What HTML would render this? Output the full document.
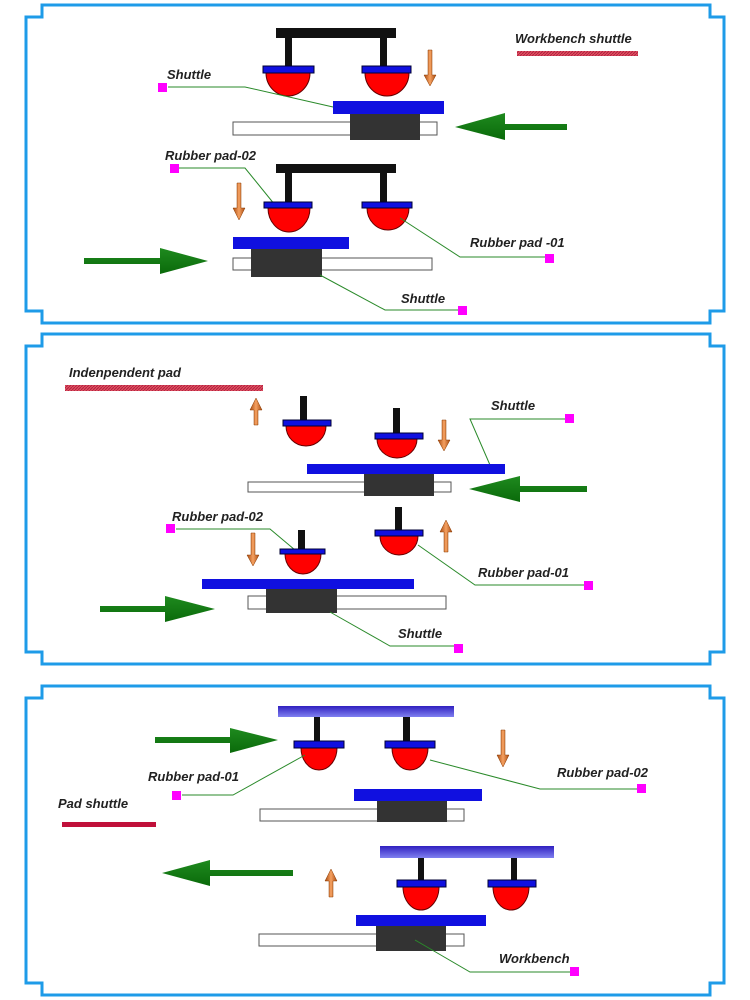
<!DOCTYPE html>
<html><head><meta charset="utf-8"><style>
html,body{margin:0;padding:0;background:#fff}
svg{display:block}
text{font-family:"Liberation Sans",sans-serif;font-weight:bold;font-style:italic;font-size:13px;fill:#222}
</style></head><body>
<svg width="750" height="1000" viewBox="0 0 750 1000" xmlns="http://www.w3.org/2000/svg">
<defs>
<linearGradient id="gr" x1="0" y1="0" x2="0" y2="1"><stop offset="0" stop-color="#1f8a1f"/><stop offset="1" stop-color="#0a6a0a"/></linearGradient>
<linearGradient id="or" x1="0" y1="0" x2="1" y2="0"><stop offset="0" stop-color="#a84a10"/><stop offset="0.5" stop-color="#f5a060"/><stop offset="1" stop-color="#a84a10"/></linearGradient>
<linearGradient id="pb" x1="0" y1="0" x2="0" y2="1"><stop offset="0" stop-color="#3020c0"/><stop offset="1" stop-color="#8080f0"/></linearGradient>
<pattern id="hatch" width="3" height="3" patternUnits="userSpaceOnUse"><rect width="3" height="3" fill="#e05060"/><path d="M0 3L3 0" stroke="#b02040" stroke-width="1"/></pattern>
</defs>
<g fill="none" stroke="#1e9be8" stroke-width="3">
<path d="M42 5H710V17H724V311H710V323H42V311H26V17H42Z"/>
<path d="M42 334H710V346H724V652H710V664H42V652H26V346H42Z"/>
<path d="M42 686H710V698H724V983H710V995H42V983H26V698H42Z"/>
</g>

<!-- PANEL 1 -->
<text x="515" y="43">Workbench shuttle</text>
<rect x="517" y="51" width="121" height="5" fill="url(#hatch)"/>
<rect x="276" y="28" width="120" height="10" fill="#111"/>
<rect x="285" y="38" width="7" height="28" fill="#111"/><rect x="380" y="38" width="7" height="28" fill="#111"/>
<path d="M266 73A22 23 0 0 0 310 73Z" fill="#f00" stroke="#600"/><path d="M365 73A22 23 0 0 0 409 73Z" fill="#f00" stroke="#600"/>
<rect x="263" y="66" width="51" height="7" fill="#1010e0" stroke="#003"/><rect x="362" y="66" width="49" height="7" fill="#1010e0" stroke="#003"/>
<path d="M428 50V75H424L430 86L436 75H432V50Z" fill="url(#or)" stroke="#8a3a00" stroke-width="0.5"/>
<text x="167" y="79">Shuttle</text>
<polyline points="168,87 245,87 333,107" fill="none" stroke="#2a8a2a" stroke-width="1"/>
<rect x="158" y="83" width="9" height="9" fill="#f0f"/>
<rect x="233" y="122" width="204" height="13" fill="#fff" stroke="#555"/>
<rect x="350" y="114" width="70" height="26" fill="#333"/>
<rect x="333" y="101" width="111" height="13" fill="#1010e0"/>
<path d="M455 127L505 113V124H567V130H505V140Z" fill="url(#gr)"/>

<text x="165" y="160">Rubber pad-02</text>
<polyline points="176,168 245,168 275,205" fill="none" stroke="#2a8a2a" stroke-width="1"/>
<rect x="170" y="164" width="9" height="9" fill="#f0f"/>
<rect x="276" y="164" width="120" height="9" fill="#111"/>
<rect x="285" y="173" width="7" height="29" fill="#111"/><rect x="380" y="173" width="7" height="29" fill="#111"/>
<path d="M268 208A21 24 0 0 0 310 208Z" fill="#f00" stroke="#600"/><path d="M367 208A21 22 0 0 0 409 208Z" fill="#f00" stroke="#600"/>
<rect x="264" y="202" width="48" height="6" fill="#1010e0" stroke="#003"/><rect x="362" y="202" width="50" height="6" fill="#1010e0" stroke="#003"/>
<path d="M237 183V208H233L239 220L245 208H241V183Z" fill="url(#or)" stroke="#8a3a00" stroke-width="0.5"/>
<rect x="233" y="258" width="199" height="12" fill="#fff" stroke="#555"/>
<rect x="251" y="249" width="71" height="28" fill="#333"/>
<rect x="233" y="237" width="116" height="12" fill="#1010e0"/>
<path d="M208 261L160 248V258H84V264H160V274Z" fill="url(#gr)"/>
<text x="470" y="247">Rubber pad -01</text>
<polyline points="400,218 460,257 547,257" fill="none" stroke="#2a8a2a" stroke-width="1"/>
<rect x="545" y="254" width="9" height="9" fill="#f0f"/>
<text x="401" y="303">Shuttle</text>
<polyline points="320,275 385,310 460,310" fill="none" stroke="#2a8a2a" stroke-width="1"/>
<rect x="458" y="306" width="9" height="9" fill="#f0f"/>

<!-- PANEL 2 -->
<text x="69" y="377">Indenpendent pad</text>
<rect x="65" y="385" width="198" height="6" fill="url(#hatch)"/>
<path d="M254 425V410H250L256 398L262 410H258V425Z" fill="url(#or)" stroke="#8a3a00" stroke-width="0.5"/>
<rect x="300" y="396" width="7" height="24" fill="#111"/>
<path d="M286 426A20 20 0 0 0 326 426Z" fill="#f00" stroke="#600"/>
<rect x="283" y="420" width="48" height="6" fill="#1010e0" stroke="#003"/>
<rect x="393" y="408" width="7" height="25" fill="#111"/>
<path d="M377 439A20 19 0 0 0 417 439Z" fill="#f00" stroke="#600"/>
<rect x="375" y="433" width="48" height="6" fill="#1010e0" stroke="#003"/>
<path d="M442 420V440H438L444 451L450 440H446V420Z" fill="url(#or)" stroke="#8a3a00" stroke-width="0.5"/>
<text x="491" y="410">Shuttle</text>
<polyline points="566,419 470,419 490,465" fill="none" stroke="#2a8a2a" stroke-width="1"/>
<rect x="565" y="414" width="9" height="9" fill="#f0f"/>
<rect x="248" y="482" width="203" height="10" fill="#fff" stroke="#555"/>
<rect x="364" y="474" width="70" height="22" fill="#333"/>
<rect x="307" y="464" width="198" height="10" fill="#1010e0"/>
<path d="M469 489L520 476V486H587V492H520V502Z" fill="url(#gr)"/>

<text x="172" y="521">Rubber pad-02</text>
<polyline points="176,529 270,529 295,550" fill="none" stroke="#2a8a2a" stroke-width="1"/>
<rect x="166" y="524" width="9" height="9" fill="#f0f"/>
<path d="M251 533V555H247L253 566L259 555H255V533Z" fill="url(#or)" stroke="#8a3a00" stroke-width="0.5"/>
<rect x="298" y="530" width="7" height="19" fill="#111"/>
<path d="M285 554A18 20 0 0 0 321 554Z" fill="#f00" stroke="#600"/>
<rect x="280" y="549" width="45" height="5" fill="#1010e0" stroke="#003"/>
<rect x="395" y="507" width="7" height="23" fill="#111"/>
<path d="M380 536A19 19 0 0 0 418 536Z" fill="#f00" stroke="#600"/>
<rect x="375" y="530" width="48" height="6" fill="#1010e0" stroke="#003"/>
<path d="M444 552V532H440L446 520L452 532H448V552Z" fill="url(#or)" stroke="#8a3a00" stroke-width="0.5"/>
<text x="478" y="577">Rubber pad-01</text>
<polyline points="418,545 475,585 586,585" fill="none" stroke="#2a8a2a" stroke-width="1"/>
<rect x="584" y="581" width="9" height="9" fill="#f0f"/>
<rect x="248" y="596" width="198" height="13" fill="#fff" stroke="#555"/>
<rect x="266" y="589" width="71" height="24" fill="#333"/>
<rect x="202" y="579" width="212" height="10" fill="#1010e0"/>
<path d="M215 609L165 596V606H100V612H165V622Z" fill="url(#gr)"/>
<text x="398" y="638">Shuttle</text>
<polyline points="330,612 390,646 456,646" fill="none" stroke="#2a8a2a" stroke-width="1"/>
<rect x="454" y="644" width="9" height="9" fill="#f0f"/>

<!-- PANEL 3 -->
<rect x="278" y="706" width="176" height="11" fill="url(#pb)"/>
<path d="M278 740L230 728V737H155V743H230V753Z" fill="url(#gr)"/>
<rect x="314" y="717" width="6" height="24" fill="#111"/><rect x="403" y="717" width="7" height="24" fill="#111"/>
<path d="M301 748A18 22 0 0 0 337 748Z" fill="#f00" stroke="#600"/><path d="M392 748A18 22 0 0 0 428 748Z" fill="#f00" stroke="#600"/>
<rect x="294" y="741" width="50" height="7" fill="#1010e0" stroke="#003"/><rect x="385" y="741" width="50" height="7" fill="#1010e0" stroke="#003"/>
<path d="M501 730V755H497L503 767L509 755H505V730Z" fill="url(#or)" stroke="#8a3a00" stroke-width="0.5"/>
<text x="148" y="781">Rubber pad-01</text>
<polyline points="182,795 233,795 305,755" fill="none" stroke="#2a8a2a" stroke-width="1"/>
<rect x="172" y="791" width="9" height="9" fill="#f0f"/>
<text x="557" y="777">Rubber pad-02</text>
<polyline points="430,760 540,789 640,789" fill="none" stroke="#2a8a2a" stroke-width="1"/>
<rect x="637" y="784" width="9" height="9" fill="#f0f"/>
<text x="58" y="808">Pad shuttle</text>
<rect x="62" y="822" width="94" height="5" fill="#c0103a"/>
<rect x="260" y="809" width="204" height="12" fill="#fff" stroke="#555"/>
<rect x="377" y="801" width="70" height="21" fill="#333"/>
<rect x="354" y="789" width="128" height="12" fill="#1010e0"/>

<path d="M162 873L210 860V870H293V876H210V886Z" fill="url(#gr)"/>
<path d="M329 897V881H325L331 869L337 881H333V897Z" fill="url(#or)" stroke="#8a3a00" stroke-width="0.5"/>
<rect x="380" y="846" width="174" height="12" fill="url(#pb)"/>
<rect x="418" y="858" width="6" height="22" fill="#111"/><rect x="511" y="858" width="6" height="22" fill="#111"/>
<path d="M403 887A18 23 0 0 0 439 887Z" fill="#f00" stroke="#600"/><path d="M493 887A18 23 0 0 0 529 887Z" fill="#f00" stroke="#600"/>
<rect x="397" y="880" width="49" height="7" fill="#1010e0" stroke="#003"/><rect x="488" y="880" width="48" height="7" fill="#1010e0" stroke="#003"/>
<rect x="259" y="934" width="205" height="12" fill="#fff" stroke="#555"/>
<rect x="376" y="926" width="70" height="25" fill="#333"/>
<rect x="356" y="915" width="130" height="11" fill="#1010e0"/>
<text x="499" y="963">Workbench</text>
<polyline points="415,940 470,972 572,972" fill="none" stroke="#2a8a2a" stroke-width="1"/>
<rect x="570" y="967" width="9" height="9" fill="#f0f"/>
</svg>
</body></html>
